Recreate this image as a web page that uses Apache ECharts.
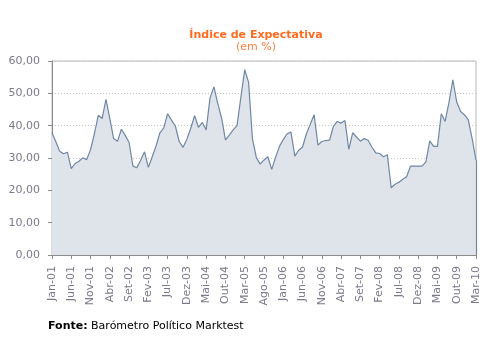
<!DOCTYPE html>
<html>
<head>
<meta charset="utf-8">
<script src="https://cdn.jsdelivr.net/npm/echarts@6/dist/echarts.min.js"></script>
<style>html,body{margin:0;padding:0;background:#fff}#c{width:485px;height:350px}</style>
</head>
<body>
<div id="c"></div>
<script>
const monthNames = ['Jan','Fev','Mar','Abr','Mai','Jun','Jul','Ago','Set','Out','Nov','Dez'];
const startYear = 2001;
const monthCount = 111;
const categories = [];
for (let k = 0; k < monthCount; k++) {
  const y = startYear + Math.floor(k / 12);
  categories.push(monthNames[k % 12] + '-' + String(y % 100).padStart(2, '0'));
}
const values = [
  37.8, 35.0, 32.1, 31.3, 31.8, 26.7, 28.3, 29.0, 30.1, 29.5,
  32.6, 37.5, 43.2, 42.2, 48.1, 42.2, 36.0, 35.2, 38.9, 37.0,
  34.8, 27.5, 27.0, 29.3, 31.9, 27.1, 30.4, 33.7, 37.8, 39.3,
  43.7, 41.7, 39.9, 35.1, 33.3, 35.8, 39.2, 43.1, 39.5, 41.0,
  38.7, 48.6, 52.0, 46.9, 42.3, 35.6, 37.1, 38.7, 40.0, 48.8,
  57.3, 53.4, 36.0, 30.2, 28.1, 29.4, 30.4, 26.5, 30.2, 33.6,
  35.7, 37.5, 38.0, 30.6, 32.4, 33.4, 37.5, 40.4, 43.4, 34.0,
  35.1, 35.4, 35.5, 39.8, 41.3, 40.8, 41.6, 32.7, 37.8, 36.5,
  35.2, 36.0, 35.5, 33.4, 31.6, 31.4, 30.4, 31.0, 20.8, 21.9,
  22.5, 23.4, 24.2, 27.5, 27.5, 27.5, 27.5, 28.8, 35.3, 33.6,
  33.6, 43.7, 41.3, 47.3, 54.2, 47.3, 44.4, 43.4, 41.8, 36.0,
  29.3
];
const titleText = 'Índice de Expectativa';
const subtitleText = '(em %)';
const sourceLabel = 'Fonte:';
const sourceText = ' Barómetro Político Marktest';

const chart = echarts.init(document.getElementById('c'), null, {renderer: 'canvas'});
const lastIdx = values.length - 1;
chart.setOption({
  animation: false,
  backgroundColor: '#ffffff',
  textStyle: {fontFamily: 'DejaVu Sans'},
  title: {
    text: titleText,
    subtext: subtitleText,
    left: 251,
    top: 25,
    textAlign: 'center',
    itemGap: 1,
    textStyle: {fontFamily: 'DejaVu Sans', fontSize: 11, fontWeight: 'bold', color: '#ff6a1f'},
    subtextStyle: {fontFamily: 'DejaVu Sans', fontSize: 11, color: '#ff7f40'}
  },
  grid: {
    left: 52, right: 9, top: 61, bottom: 95,
    show: true, borderColor: '#b8b8b8', borderWidth: 1, backgroundColor: 'transparent'
  },
  xAxis: {
    type: 'category',
    data: categories,
    boundaryGap: false,
    axisLine: {lineStyle: {color: '#8c8c8c', width: 1}},
    axisTick: {interval: 4, length: 4, lineStyle: {color: '#8c8c8c'}},
    axisLabel: {interval: 4, rotate: 90, fontSize: 11, color: '#7a7a8c', margin: 11, fontFamily: 'DejaVu Sans'},
    splitLine: {show: false}
  },
  yAxis: {
    type: 'value',
    min: 0, max: 60, interval: 10,
    axisLine: {show: true, lineStyle: {color: '#8c8c8c', width: 1}},
    axisTick: {show: true, length: 4, lineStyle: {color: '#8c8c8c'}},
    axisLabel: {
      fontSize: 11, color: '#7a7a8c', margin: 12, fontFamily: 'DejaVu Sans',
      formatter: v => v.toFixed(2).replace('.', ',')
    },
    splitLine: {show: true, lineStyle: {color: '#c8c8c8', type: [1, 2], width: 1}}
  },
  series: [{
    type: 'line',
    data: values,
    symbol: 'none',
    lineStyle: {color: '#6f87a5', width: 1.2},
    areaStyle: {color: '#dfe3ea', opacity: 1},
    markLine: {
      silent: true,
      symbol: 'none',
      label: {show: false},
      lineStyle: {color: '#6f87a5', width: 1.2, type: 'solid'},
      data: [[{coord: [categories[lastIdx], 0]}, {coord: [categories[lastIdx], values[lastIdx]]}]]
    }
  }],
  graphic: [{
    type: 'text',
    left: 48,
    top: 321,
    style: {
      text: '{b|' + sourceLabel + '}{n|' + sourceText + '}',
      rich: {
        b: {fontFamily: 'DejaVu Sans', fontSize: 11, fontWeight: 'bold', fill: '#000'},
        n: {fontFamily: 'DejaVu Sans', fontSize: 11, fill: '#000'}
      }
    }
  }]
});
</script>
</body>
</html>
